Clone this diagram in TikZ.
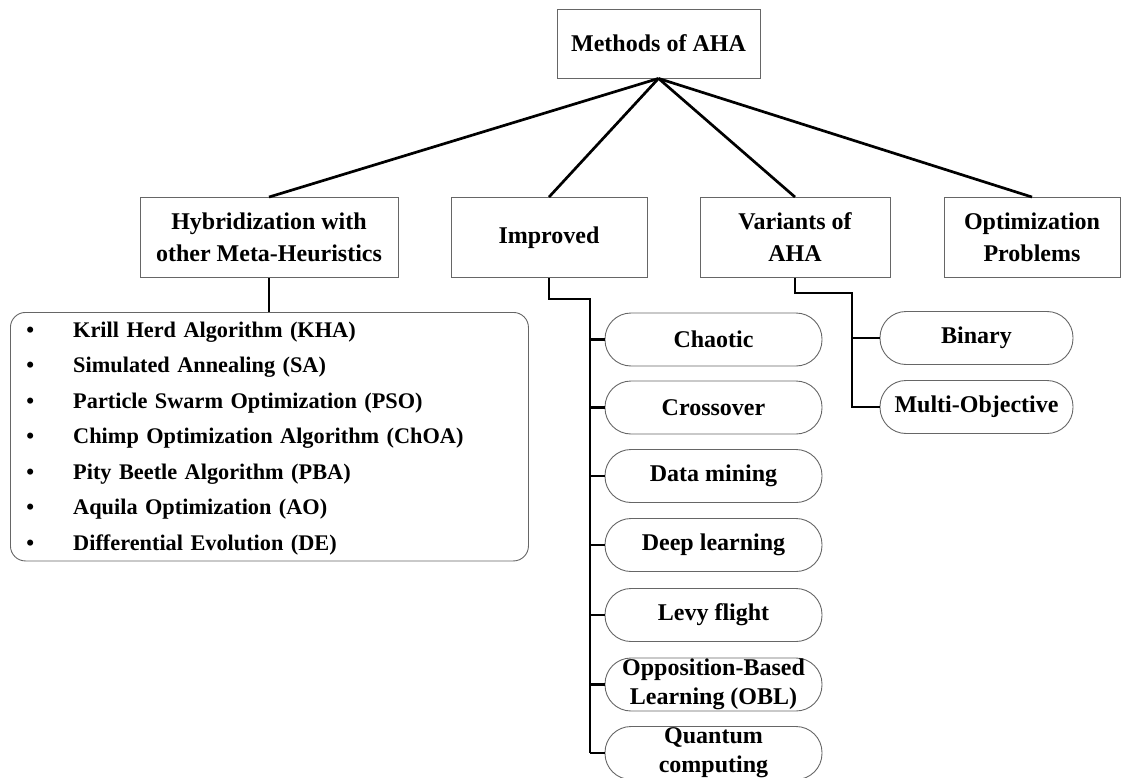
\documentclass[tikz,border=0pt]{standalone}
\usepackage{fontspec}
\setmainfont{Liberation Serif}
\begin{document}
\begin{tikzpicture}[x=1pt,y=-1pt,
  box/.style={draw=black!60, line width=0.9pt, minimum width=#1, minimum height=80pt,
    inner sep=0pt, align=center, font=\bfseries\fontsize{24}{32}\selectfont},
  pill/.style={draw=black!60, line width=0.9pt, rounded corners=26pt, minimum width=#1,
    minimum height=53pt, inner sep=0pt, align=center, font=\bfseries\fontsize{24}{29}\selectfont},
  link/.style={draw=black, line width=2.7pt}]
\useasboundingbox (0,0) rectangle (1134,778);

% root
\node[box=203pt, minimum height=69pt] (root) at (658.5,43.5) {Methods of AHA};

% first level
\node[box=258pt] (hyb) at (269,237.5) {Hybridization with\\other Meta-Heuristics};
\node[box=196pt] (imp) at (549,237.5) {Improved};
\node[box=190pt] (var) at (795,237.5) {Variants of\\AHA};
\node[box=176pt] (opt) at (1032,237.5) {Optimization\\Problems};

\foreach \n in {hyb,imp,var,opt}
  \draw[link] (root.south) -- (\n.north);

% hybridization list
\node[draw=black!60, line width=0.9pt, rounded corners=15pt, anchor=north west,
      minimum height=247pt, text width=486pt, inner xsep=16pt, inner ysep=0pt,
      align=left, font=\bfseries\fontsize{22.3}{35.5}\selectfont] (list) at (10,312)
  {\begin{tabular}{@{}l@{\hspace{39pt}}l@{}}
   \textbullet & Krill Herd Algorithm (KHA)\\
   \textbullet & Simulated Annealing (SA)\\
   \textbullet & Particle Swarm Optimization (PSO)\\
   \textbullet & Chimp Optimization Algorithm (ChOA)\\
   \textbullet & Pity Beetle Algorithm (PBA)\\
   \textbullet & Aquila Optimization (AO)\\
   \textbullet & Differential Evolution (DE)
   \end{tabular}};
\draw[link] (hyb.south) -- (hyb.south |- list.north);

% improved variants
\node[pill=217pt] (c1) at (713.5,339.5) {Chaotic};
\node[pill=217pt] (c2) at (713.5,407.5) {Crossover};
\node[pill=217pt] (c3) at (713.5,476) {Data mining};
\node[pill=217pt] (c4) at (713.5,545) {Deep learning};
\node[pill=217pt] (c5) at (713.5,615) {Levy flight};
\node[pill=217pt] (c6) at (713.5,684.5) {Opposition-Based\\Learning (OBL)};
\node[pill=217pt] (c7) at (713.5,753) {Quantum\\computing};

\coordinate (ibend) at (590,299);
\draw[link] (imp.south) |- (ibend) -- (ibend |- c7.west);
\foreach \n in {c1,c2,c3,c4,c5,c6,c7}
  \draw[link] (ibend |- \n.west) -- (\n.west);

% AHA variants
\node[pill=193pt] (bin) at (976.5,338) {Binary};
\node[pill=193pt] (multi) at (976.5,407) {Multi-Objective};

\coordinate (vbend) at (852,293);
\draw[link] (var.south) |- (vbend) -- (vbend |- multi.west) -- (multi.west);
\draw[link] (vbend |- bin.west) -- (bin.west);
\end{tikzpicture}
\end{document}
